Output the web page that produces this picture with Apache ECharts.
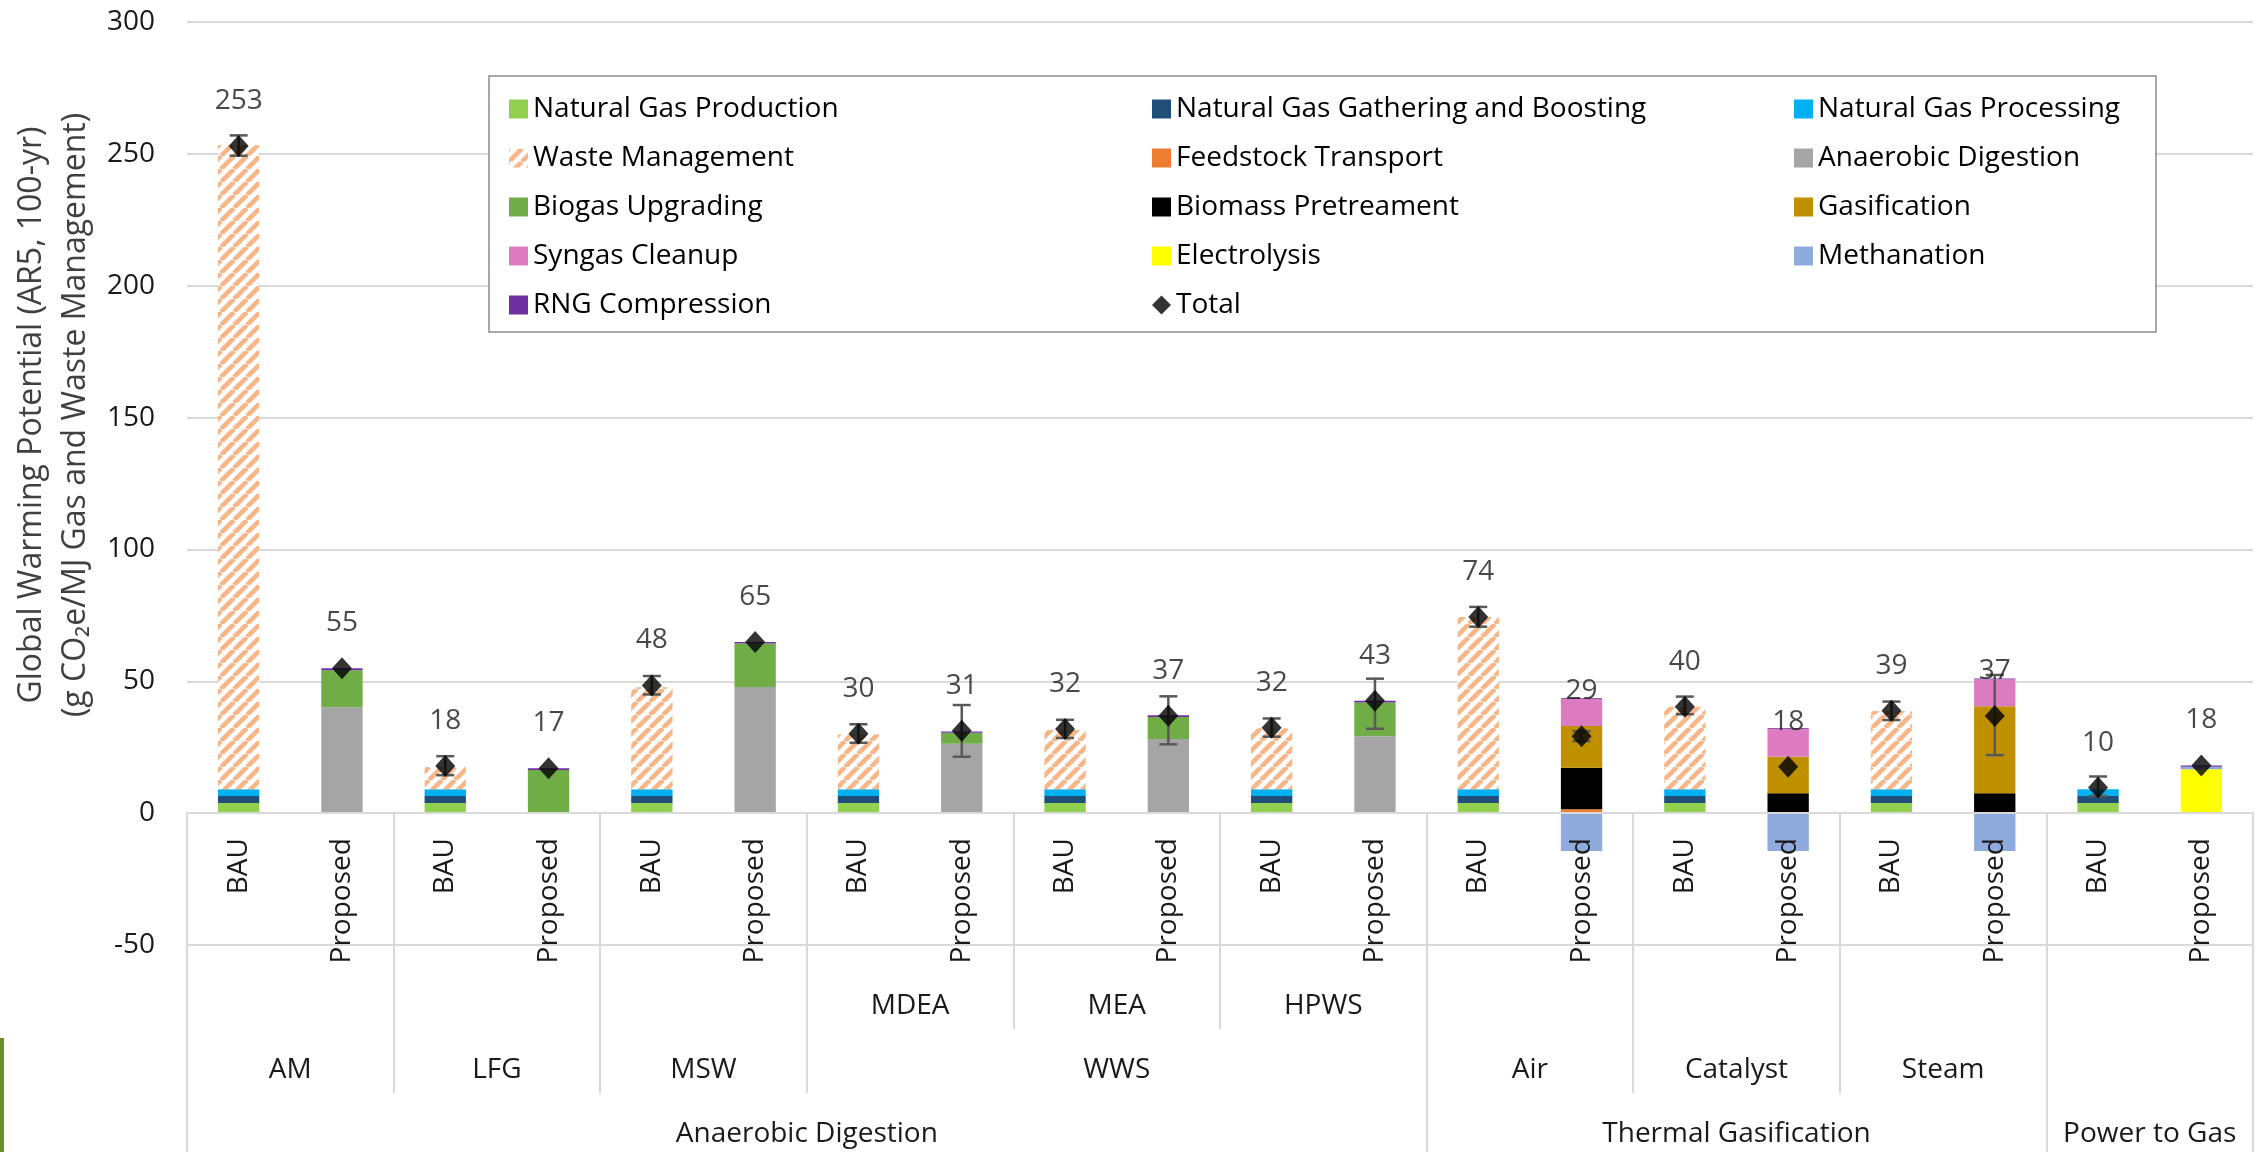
<!DOCTYPE html>
<html>
<head>
<meta charset="utf-8">
<script src="https://cdn.jsdelivr.net/npm/echarts@6/dist/echarts.min.js"></script>
<style>
  html, body { margin: 0; padding: 0; background: #fff; }
  #main { width: 2259px; height: 1152px; }
</style>
</head>
<body>
<div id="main"></div>
<script>
// x categories, pairs in order: AM, LFG, MSW, MDEA, MEA, HPWS, Air, Catalyst, Steam, Power to Gas
const categories = ['BAU', 'Proposed', 'BAU', 'Proposed', 'BAU', 'Proposed', 'BAU', 'Proposed', 'BAU', 'Proposed',
  'BAU', 'Proposed', 'BAU', 'Proposed', 'BAU', 'Proposed', 'BAU', 'Proposed', 'BAU', 'Proposed']

// higher label levels
const pairNames = ['', '', '', 'MDEA', 'MEA', 'HPWS', '', '', '', '']
const groupNames = ['AM', 'LFG', 'MSW', 'WWS', 'Air', 'Catalyst', 'Steam', '']
const groupSpans = [2, 2, 2, 6, 2, 2, 2, 2]
const familyNames = ['Anaerobic Digestion', 'Thermal Gasification', 'Power to Gas']
const familySpans = [12, 6, 2]

// stacked contributions (g CO2e/MJ)
const ngProduction = [3.8, null, 3.8, null, 3.8, null, 3.8, null, 3.8, null, 3.8, null, 3.8, null, 3.8, null, 3.8, null, 3.8, null]
const ngGathering = [2.7, null, 2.7, null, 2.7, null, 2.7, null, 2.7, null, 2.7, null, 2.7, null, 2.7, null, 2.7, null, 2.7, null]
const ngProcessing = [2.6, null, 2.6, null, 2.6, null, 2.6, null, 2.6, null, 2.6, null, 2.6, null, 2.6, null, 2.6, null, 2.6, null]
const wasteManagement = [244.2, null, 8.4, null, 38.6, null, 20.7, null, 22.4, null, 23.1, null, 65.3, null, 31.2, null, 29.6, null, null, null]
const feedstockTransport = [null, null, null, null, null, null, null, null, null, null, null, null, null, 1.5, null, 0.3, null, 0.3, null, null]
const anaerobicDigestion = [null, 40.2, null, null, null, 47.8, null, 26.3, null, 28.1, null, 29.2, null, null, null, null, null, null, null, null]
const biogasUpgrading = [null, 14.0, null, 16.4, null, 16.5, null, 4.2, null, 8.4, null, 12.8, null, null, null, null, null, null, null, null]
const biomassPretreatment = [null, null, null, null, null, null, null, null, null, null, null, null, null, 15.7, null, 7.2, null, 7.2, null, null]
const gasification = [null, null, null, null, null, null, null, null, null, null, null, null, null, 15.8, null, 13.9, null, 33.0, null, null]
const syngasCleanup = [null, null, null, null, null, null, null, null, null, null, null, null, null, 10.4, null, 10.6, null, 10.3, null, null]
const electrolysis = [null, null, null, null, null, null, null, null, null, null, null, null, null, null, null, null, null, null, null, 16.6]
const methanation = [null, null, null, null, null, null, null, null, null, null, null, null, null, -14.4, null, -14.4, null, -14.4, null, 1.0]
const rngCompression = [null, 0.7, null, 0.6, null, 0.6, null, 0.5, null, 0.6, null, 0.6, null, 0.3, null, 0.3, null, 0.3, null, 0.5]

// totals and their error bars
const totals = [253, 54.9, 17.9, 17.0, 48.4, 64.9, 30.1, 31.2, 31.9, 36.9, 32.4, 42.6, 74.4, 29.2, 40.3, 17.6, 38.8, 36.8, 9.7, 18.1]
const errLow = [249.3, null, 14.4, null, 45, null, 26.7, 21.4, 28.5, 26.1, 29, 32, 70.7, 27.3, 37.5, null, 35.3, 22, 6.5, null]
const errHigh = [257, null, 21.6, null, 52, null, 33.7, 41, 35.4, 44.3, 35.9, 51, 78.2, 31.1, 44.2, null, 42.3, 52.4, 13.9, null]

const yTicks = { min: -50, max: 300, step: 50 }

// ---- layout
const FONT = '"Open Sans", "Noto Sans", sans-serif'
const W = 2259, H = 1152
const gridLeft = 187, gridRight = 6, gridTop = 22, gridBottom = 207
const plotH = H - gridTop - gridBottom
const bottomY = H - gridBottom
const zeroY = gridTop + plotH * yTicks.max / (yTicks.max - yTicks.min)
const level2Y = 1029
const level3Y = 1093

function edges (spans) {
  const out = [0]
  let s = 0
  spans.forEach(v => { s += v; out.push(s) })
  return out
}
function centers (spans) {
  const e = edges(spans)
  return spans.map((v, i) => e[i] + v / 2)
}

const pairEdges = edges(pairNames.map(() => 2))
const pairCenters = centers(pairNames.map(() => 2))
const groupEdges = edges(groupSpans)
const groupCenters = centers(groupSpans)
const familyEdges = edges(familySpans)
const familyCenters = centers(familySpans)

function labelAt (cs, names) {
  return function (v) {
    const i = cs.findIndex(c => Math.abs(c - v) < 1e-6)
    return i < 0 ? '' : names[i]
  }
}

// hatched fill for waste management
function hatch () {
  const c = document.createElement('canvas')
  c.width = 13
  c.height = 13
  const g = c.getContext('2d')
  g.fillStyle = '#ffffff'
  g.fillRect(0, 0, 13, 13)
  g.strokeStyle = '#f7b688'
  g.lineWidth = 4.6
  g.beginPath()
  for (const k of [-13, 0, 13]) {
    g.moveTo(k, 13)
    g.lineTo(k + 13, 0)
  }
  g.stroke()
  return c
}

const parts = [
  ['Natural Gas Production', ngProduction],
  ['Natural Gas Gathering and Boosting', ngGathering],
  ['Natural Gas Processing', ngProcessing],
  ['Waste Management', wasteManagement],
  ['Feedstock Transport', feedstockTransport],
  ['Anaerobic Digestion', anaerobicDigestion],
  ['Biogas Upgrading', biogasUpgrading],
  ['Biomass Pretreament', biomassPretreatment],
  ['Gasification', gasification],
  ['Syngas Cleanup', syngasCleanup],
  ['Electrolysis', electrolysis],
  ['Methanation', methanation],
  ['RNG Compression', rngCompression]
]
const partColors = {
  'Natural Gas Production': '#92d050',
  'Natural Gas Gathering and Boosting': '#1f4e79',
  'Natural Gas Processing': '#00b0f0',
  'Waste Management': { image: hatch(), repeat: 'repeat' },
  'Feedstock Transport': '#ed7d31',
  'Anaerobic Digestion': '#a5a5a5',
  'Biogas Upgrading': '#70ad47',
  'Biomass Pretreament': '#000000',
  'Gasification': '#bf9000',
  'Syngas Cleanup': '#dc7bc0',
  'Electrolysis': '#ffff00',
  'Methanation': '#8faadc',
  'RNG Compression': '#7030a0'
}

const legendCols = [
  ['Natural Gas Production', 'Waste Management', 'Biogas Upgrading', 'Syngas Cleanup', 'RNG Compression'],
  ['Natural Gas Gathering and Boosting', 'Feedstock Transport', 'Biomass Pretreament', 'Electrolysis', 'Total'],
  ['Natural Gas Processing', 'Anaerobic Digestion', 'Gasification', 'Methanation']
]
const legendLeft = [509, 1152, 1794]

const errData = []
errLow.forEach((lo, i) => {
  if (lo != null && errHigh[i] != null) errData.push([i, lo, errHigh[i]])
})

const frameLine = { color: '#d9d9d9', width: 2 }
const textColor = '#1a1a1a'

const series = parts.map(([name, data]) => ({
  name,
  type: 'bar',
  stack: 'gwp',
  barWidth: '40%',
  data,
  itemStyle: { color: partColors[name] },
  z: 2
}))

series.push({
  name: 'error',
  type: 'custom',
  data: errData,
  encode: { x: 0, y: [1, 2] },
  z: 3,
  renderItem (params, api) {
    const x = api.value(0)
    const top = api.coord([x, api.value(2)])
    const bot = api.coord([x, api.value(1)])
    const half = 9
    const st = { stroke: '#595959', lineWidth: 2.5 }
    return {
      type: 'group',
      children: [
        { type: 'line', shape: { x1: top[0], y1: top[1], x2: bot[0], y2: bot[1] }, style: st },
        { type: 'line', shape: { x1: top[0] - half, y1: top[1], x2: top[0] + half, y2: top[1] }, style: st },
        { type: 'line', shape: { x1: bot[0] - half, y1: bot[1], x2: bot[0] + half, y2: bot[1] }, style: st }
      ]
    }
  }
})

series.push({
  name: 'Total',
  type: 'scatter',
  data: totals,
  symbol: 'diamond',
  symbolSize: [20, 22],
  itemStyle: { color: '#000000' },
  z: 4,
  label: {
    show: true,
    position: 'top',
    distance: 20,
    fontSize: 28,
    lineHeight: 28,
    fontFamily: FONT,
    color: textColor,
    formatter: p => Math.round(p.value)
  }
})

const option = {
  animation: false,
  backgroundColor: '#ffffff',
  textStyle: { fontFamily: FONT },
  grid: {
    left: gridLeft,
    right: gridRight,
    top: gridTop,
    bottom: gridBottom,
    containLabel: false,
    outerBoundsMode: 'none'
  },
  legend: legendCols.map((col, i) => ({
    orient: 'vertical',
    left: legendLeft[i],
    top: 93,
    padding: 0,
    itemGap: 17,
    itemWidth: 19,
    itemHeight: 19,
    selectedMode: false,
    z: 6,
    textStyle: { fontSize: 28, lineHeight: 32, color: '#000000', fontFamily: FONT },
    data: col.map(n => ({ name: n, icon: n === 'Total' ? 'diamond' : 'rect' }))
  })),
  xAxis: [
    {
      type: 'category',
      data: categories,
      position: 'bottom',
      offset: zeroY - bottomY,
      z: 5,
      axisLine: { onZero: false, lineStyle: frameLine },
      axisTick: { show: false },
      axisLabel: {
        interval: 0,
        rotate: 90,
        margin: 25,
        fontSize: 28,
        color: textColor,
        fontFamily: FONT
      },
      splitLine: { show: false }
    },
    {
      type: 'value',
      min: 0,
      max: categories.length,
      position: 'bottom',
      offset: zeroY - bottomY,
      axisLine: { show: false, onZero: false },
      splitLine: { show: false },
      axisTick: {
        show: true,
        customValues: pairEdges,
        length: level2Y - zeroY,
        lineStyle: frameLine
      },
      axisLabel: {
        customValues: pairCenters,
        formatter: labelAt(pairCenters, pairNames),
        margin: 1007 - 15 - zeroY,
        fontSize: 28,
        lineHeight: 28,
        color: textColor,
        fontFamily: FONT
      }
    },
    {
      type: 'value',
      min: 0,
      max: categories.length,
      position: 'bottom',
      offset: level2Y - bottomY,
      axisLine: { show: false, onZero: false },
      splitLine: { show: false },
      axisTick: {
        show: true,
        customValues: groupEdges,
        length: level3Y - level2Y,
        lineStyle: frameLine
      },
      axisLabel: {
        customValues: groupCenters,
        formatter: labelAt(groupCenters, groupNames),
        margin: 27,
        fontSize: 28,
        lineHeight: 28,
        color: textColor,
        fontFamily: FONT
      }
    },
    {
      type: 'value',
      min: 0,
      max: categories.length,
      position: 'bottom',
      offset: level3Y - bottomY,
      axisLine: { show: false, onZero: false },
      splitLine: { show: false },
      axisTick: {
        show: true,
        customValues: familyEdges,
        length: H - level3Y,
        lineStyle: frameLine
      },
      axisLabel: {
        customValues: familyCenters,
        formatter: labelAt(familyCenters, familyNames),
        margin: 27,
        fontSize: 28,
        lineHeight: 28,
        color: textColor,
        fontFamily: FONT
      }
    }
  ],
  yAxis: {
    type: 'value',
    min: yTicks.min,
    max: yTicks.max,
    interval: yTicks.step,
    axisLine: { show: false },
    axisTick: { show: false },
    axisLabel: { fontSize: 28, color: textColor, margin: 32, fontFamily: FONT },
    splitLine: { lineStyle: frameLine }
  },
  graphic: [
    {
      type: 'rect',
      z: 5,
      shape: { x: 489, y: 76, width: 1667, height: 256 },
      style: { fill: '#ffffff', stroke: '#8c8c8c', lineWidth: 1.5 }
    },
    {
      type: 'text',
      x: 54,
      y: 415,
      rotation: Math.PI / 2,
      style: {
        text: 'Global Warming Potential (AR5, 100-yr)\n(g CO₂e/MJ Gas and Waste Management)',
        fontSize: 32,
        fontFamily: FONT,
        lineHeight: 44,
        fill: '#404040',
        textAlign: 'center',
        textVerticalAlign: 'middle'
      }
    },
    {
      type: 'rect',
      shape: { x: 0, y: 1038, width: 4, height: 114 },
      style: { fill: '#6a8f2a' }
    }
  ],
  series
}

const chart = echarts.init(document.getElementById('main'), null, { renderer: 'canvas' })
chart.setOption(option)
</script>
</body>
</html>
